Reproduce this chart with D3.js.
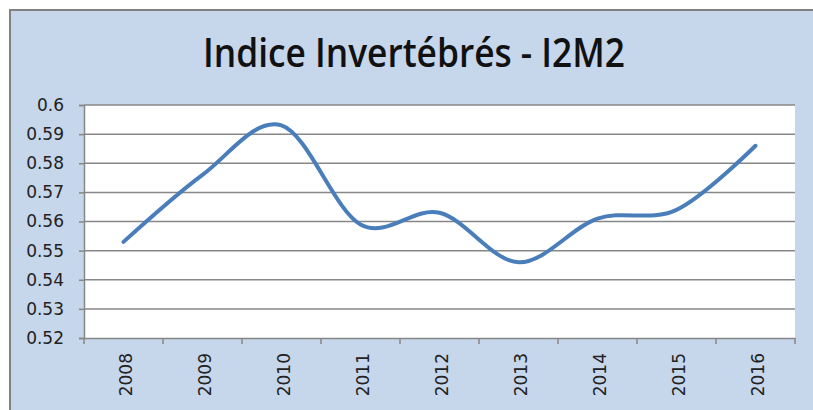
<!DOCTYPE html>
<html>
<head>
<meta charset="utf-8">
<script src="https://cdn.jsdelivr.net/npm/d3@7"></script>
<style>
  body { margin: 0; background: #fff; }
  svg { display: block; }
</style>
</head>
<body>
<script>
var years = ["2008", "2009", "2010", "2011", "2012", "2013", "2014", "2015", "2016"];
var i2m2 = [0.553, 0.576, 0.593, 0.559, 0.563, 0.546, 0.561, 0.564, 0.586];
var yTicks = [0.52, 0.53, 0.54, 0.55, 0.56, 0.57, 0.58, 0.59, 0.6];
var title = "Indice Invertébrés - I2M2";

var W = 813, H = 410;
var plot = { left: 84, right: 795, top: 105, bottom: 338 };

var svg = d3.select("body").append("svg")
  .attr("width", W)
  .attr("height", H);

// chart area
svg.append("rect")
  .attr("x", 10).attr("y", 10)
  .attr("width", W).attr("height", H)
  .attr("fill", "#c6d6eb")
  .attr("stroke", "#808080")
  .attr("stroke-width", 2);

svg.append("rect")
  .attr("x", plot.left).attr("y", plot.top)
  .attr("width", plot.right - plot.left)
  .attr("height", plot.bottom - plot.top)
  .attr("fill", "#fff");

svg.append("text")
  .attr("x", 414).attr("y", 67)
  .attr("text-anchor", "middle")
  .attr("font-family", "Open Sans")
  .attr("font-weight", 600)
  .attr("font-size", 40)
  .attr("textLength", 422)
  .attr("lengthAdjust", "spacingAndGlyphs")
  .attr("fill", "#111")
  .text(title);

var x = d3.scaleBand().domain(years).range([plot.left, plot.right]);
var y = d3.scaleLinear().domain([0.52, 0.6]).range([plot.bottom, plot.top]);

// gridlines
svg.append("g")
  .selectAll("line")
  .data(yTicks.slice(1))
  .enter().append("line")
  .attr("x1", plot.left).attr("x2", plot.right)
  .attr("y1", function (d) { return y(d); })
  .attr("y2", function (d) { return y(d); })
  .attr("stroke", "#878787")
  .attr("stroke-width", 1.5);

// y axis
var yAxis = svg.append("g")
  .attr("transform", "translate(" + plot.left + ",0)")
  .call(d3.axisLeft(y).tickValues(yTicks).tickSize(5).tickPadding(15)
    .tickFormat(function (d) { return d3.format("")(+d.toFixed(2)); }));

// x axis with ticks at category boundaries
var xAxis = svg.append("g")
  .attr("transform", "translate(0," + plot.bottom + ")")
  .call(d3.axisBottom(x).tickSize(0).tickPadding(0));

xAxis.selectAll(".tick text")
  .attr("transform", "translate(2,0) rotate(-90)")
  .attr("text-anchor", "end")
  .attr("dy", "0.36em")
  .attr("x", -15)
  .attr("y", 0);

svg.append("g")
  .selectAll("line")
  .data(d3.range(years.length + 1))
  .enter().append("line")
  .attr("x1", function (i) { return plot.left + i * x.step(); })
  .attr("x2", function (i) { return plot.left + i * x.step(); })
  .attr("y1", plot.bottom).attr("y2", plot.bottom + 6)
  .attr("stroke", "#878787")
  .attr("stroke-width", 1.5);

svg.selectAll(".domain, .tick line")
  .attr("stroke", "#878787")
  .attr("stroke-width", 1.5);

svg.selectAll(".tick text")
  .attr("font-family", "DejaVu Sans")
  .attr("font-size", 17)
  .attr("fill", "#222");

// series
var line = d3.line()
  .x(function (d, i) { return x(years[i]) + x.bandwidth() / 2; })
  .y(function (d) { return y(d); })
  .curve(d3.curveCardinal.tension(0));

svg.append("path")
  .datum(i2m2)
  .attr("d", line)
  .attr("fill", "none")
  .attr("stroke", "#4a7ebb")
  .attr("stroke-width", 4)
  .attr("stroke-linecap", "round");
</script>
</body>
</html>
